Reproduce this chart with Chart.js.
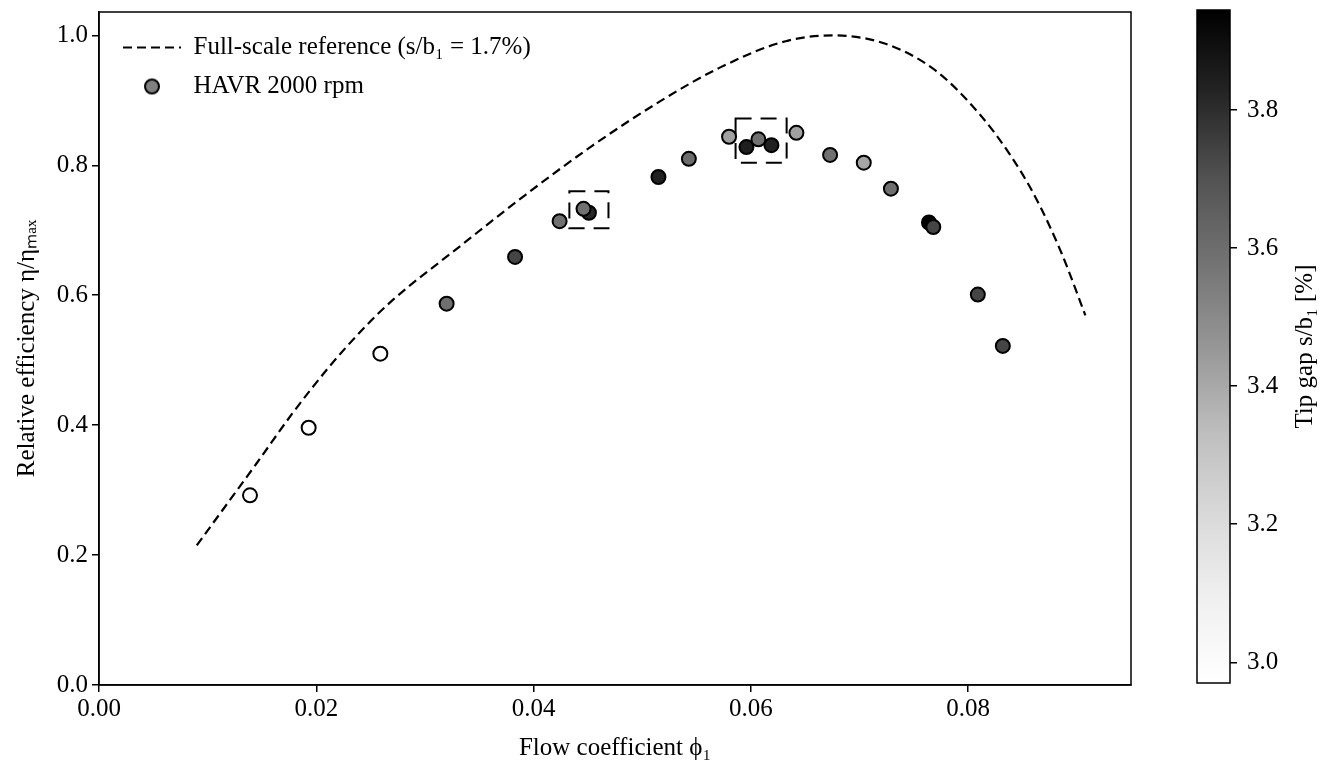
<!DOCTYPE html>
<html lang="en">
  <head>
    <meta charset="UTF-8" />
    <title>Relative efficiency vs flow coefficient</title>
    <script src="https://cdn.jsdelivr.net/npm/chart.js"></script>
    <style>
      body { margin: 0; background: #fff; }
      #wrap { position: relative; width: 1323px; height: 763px; }
      #effChart { position: absolute; left: 0; top: 0; }
      #gapBar { position: absolute; left: 1150px; top: 0; }
    </style>
  </head>
  <body>
    <div id="wrap">
      <canvas id="effChart" width="1323" height="763"></canvas>
      <canvas id="gapBar" width="173" height="763"></canvas>
    </div>

    <script>
      // full-scale reference curve (s/b1 = 1.7%)
      const refPhi = [0.0090, 0.0145, 0.0178, 0.0212, 0.0243, 0.0270, 0.0332, 0.0393, 0.0454, 0.0516,
                      0.0571, 0.0632, 0.0675, 0.0724, 0.0770, 0.0810, 0.0838, 0.0862, 0.0886, 0.0908];
      const refEta = [0.215, 0.341, 0.418, 0.490, 0.548, 0.592, 0.675, 0.755, 0.830, 0.898,
                      0.950, 0.991, 1.000, 0.987, 0.946, 0.880, 0.818, 0.751, 0.665, 0.569];

      // HAVR 2000 rpm measurements
      const phi = [0.0139, 0.0193, 0.0259, 0.0320, 0.0383, 0.0424, 0.0451, 0.0446, 0.0515, 0.0543, 0.0580,
                   0.0596, 0.0607, 0.0619, 0.0642, 0.0673, 0.0704, 0.0729, 0.0764, 0.0768, 0.0809, 0.0832];
      const eta = [0.292, 0.396, 0.510, 0.587, 0.659, 0.714, 0.727, 0.733, 0.782, 0.810, 0.844,
                   0.828, 0.840, 0.831, 0.850, 0.816, 0.804, 0.764, 0.712, 0.705, 0.601, 0.522];
      // tip gap s/b1 [%]
      const tipGap = [2.970, 2.970, 2.970, 3.595, 3.736, 3.590, 3.823, 3.590, 3.840, 3.604, 3.426,
                      3.845, 3.590, 3.835, 3.426, 3.590, 3.411, 3.595, 3.945, 3.736, 3.736, 3.736];

      // dashed boxes [phiMin, phiMax, etaMin, etaMax]
      const boxes = [
        [0.0433, 0.0469, 0.703, 0.760],
        [0.0586, 0.0633, 0.804, 0.872],
      ];

      const xTicksMax = 0.095;
      const yTicksMax = 1.036;
      const gapMin = Math.min(...tipGap);
      const gapMax = Math.max(...tipGap);

      const FONT = { family: "'Liberation Serif', 'Times New Roman', serif", size: 25 };

      // matplotlib "Greys"
      const greys = [[0, 255], [0.125, 240], [0.25, 217], [0.375, 189], [0.5, 150],
                     [0.625, 115], [0.75, 82], [0.875, 37], [1, 0]];
      function greyAt(t) {
        t = Math.max(0, Math.min(1, t));
        for (let i = 1; i < greys.length; i++) {
          if (t <= greys[i][0]) {
            const [t0, g0] = greys[i - 1], [t1, g1] = greys[i];
            const g = Math.round(g0 + (g1 - g0) * (t - t0) / (t1 - t0));
            return `rgb(${g},${g},${g})`;
          }
        }
        return 'rgb(0,0,0)';
      }
      const gapColor = (v) => greyAt((v - gapMin) / (gapMax - gapMin));

      // legend handles
      function lineHandle() {
        const c = document.createElement('canvas');
        c.width = 80; c.height = 4;
        const g = c.getContext('2d');
        g.strokeStyle = '#000'; g.lineWidth = 2.2; g.setLineDash([9, 5]);
        g.beginPath(); g.moveTo(16, 2); g.lineTo(74, 2); g.stroke();
        return c;
      }
      function dotHandle() {
        const c = document.createElement('canvas');
        c.width = 80; c.height = 20;
        const g = c.getContext('2d');
        g.fillStyle = '#808080'; g.strokeStyle = '#000'; g.lineWidth = 2;
        g.beginPath(); g.arc(45, 10, 7, 0, Math.PI * 2); g.fill(); g.stroke();
        return c;
      }

      const framePlugin = {
        id: 'frame',
        afterDatasetsDraw(chart) {
          const { ctx, chartArea: a, scales } = chart;
          ctx.save();
          ctx.strokeStyle = '#000';
          if (scales.x && scales.x.options.display !== false) {
            ctx.lineWidth = 2;
            ctx.setLineDash([16, 9]);
            boxes.forEach(([x0, x1, y0, y1]) => {
              const l = scales.x.getPixelForValue(x0), r = scales.x.getPixelForValue(x1);
              const t = scales.y.getPixelForValue(y1), b = scales.y.getPixelForValue(y0);
              ctx.strokeRect(l, t, r - l, b - t);
            });
          }
          ctx.setLineDash([]);
          ctx.lineWidth = 1.5;
          ctx.strokeRect(a.left, a.top, a.right - a.left, a.bottom - a.top);
          ctx.restore();
        }
      };

      const tickGrid = { drawOnChartArea: false, color: '#000', tickLength: 7, lineWidth: 1.5 };
      const noPad = (s) => { s.paddingTop = 0; s.paddingBottom = 0; };

      new Chart(document.getElementById('effChart'), {
        type: 'scatter',
        data: {
          datasets: [
            {
              type: 'line',
              label: 'Full-scale reference (s/b₁ = 1.7%)',
              data: refPhi.map((x, i) => ({ x, y: refEta[i] })),
              borderColor: '#000',
              borderWidth: 2.2,
              borderDash: [9, 5],
              pointRadius: 0,
              fill: false,
              cubicInterpolationMode: 'monotone',
            },
            {
              label: 'HAVR 2000 rpm',
              data: phi.map((x, i) => ({ x, y: eta[i] })),
              backgroundColor: tipGap.map(gapColor),
              borderColor: '#000',
              borderWidth: 2,
              pointRadius: 7,
            },
          ],
        },
        options: {
          responsive: false,
          animation: false,
          layout: { padding: { left: 0, right: 192, top: 12, bottom: 0 } },
          scales: {
            x: {
              type: 'linear', min: 0, max: xTicksMax,
              ticks: { stepSize: 0.02, includeBounds: false, callback: (v) => v.toFixed(2), color: '#000', font: FONT, padding: 2, maxRotation: 0 },
              grid: tickGrid,
              border: { color: '#000', width: 1.5 },
              title: { display: true, text: 'Flow coefficient ϕ₁', color: '#000', font: FONT, padding: { top: 3, bottom: 0 } },
              afterFit(s) { s.height = 78; },
            },
            y: {
              min: 0, max: yTicksMax,
              ticks: { stepSize: 0.2, includeBounds: false, callback: (v) => v.toFixed(1), color: '#000', font: FONT, padding: 4 },
              grid: tickGrid,
              border: { color: '#000', width: 1.5 },
              title: { display: true, text: 'Relative efficiency η/ηₘₐₓ', color: '#000', font: FONT, padding: { top: 12, bottom: 0 } },
              afterFit(s) { s.width = 99; noPad(s); },
            },
          },
          plugins: {
            tooltip: { enabled: false },
            legend: {
              position: 'chartArea',
              align: 'start',
              title: { display: true, text: '', padding: { top: 21, bottom: 0 }, font: { size: 0 } },
              labels: {
                usePointStyle: true,
                pointStyleWidth: 68,
                padding: 14,
                color: '#000',
                font: FONT,
                generateLabels: (chart) => chart.data.datasets.map((ds, i) => ({
                  text: ds.label,
                  fontColor: '#000',
                  pointStyle: i === 0 ? lineHandle() : dotHandle(),
                  fillStyle: '#000', strokeStyle: '#000', lineWidth: 0,
                  hidden: false, datasetIndex: i,
                })),
              },
            },
          },
        },
        plugins: [framePlugin],
      });

      // colour bar
      const gapTitle = {
        id: 'gapTitle',
        afterDraw(chart) {
          const { ctx, chartArea: a } = chart;
          ctx.save();
          ctx.translate(155, (a.top + a.bottom) / 2);
          ctx.rotate(-Math.PI / 2);
          ctx.fillStyle = '#000';
          ctx.font = `${FONT.size}px ${FONT.family}`;
          ctx.textAlign = 'center';
          ctx.textBaseline = 'middle';
          ctx.fillText('Tip gap s/b₁ [%]', 0, 0);
          ctx.restore();
        }
      };

      new Chart(document.getElementById('gapBar'), {
        type: 'bar',
        data: {
          labels: ['tip gap'],
          datasets: [{
            data: [[gapMin, gapMax]],
            backgroundColor: (c) => {
              const { ctx, chartArea } = c.chart;
              if (!chartArea) return '#888';
              const g = ctx.createLinearGradient(0, chartArea.bottom, 0, chartArea.top);
              greys.forEach(([t, v]) => g.addColorStop(t, `rgb(${v},${v},${v})`));
              return g;
            },
            borderWidth: 0,
            barPercentage: 1,
            categoryPercentage: 1,
          }],
        },
        options: {
          responsive: false,
          animation: false,
          layout: { padding: { left: 47, right: 0, top: 10, bottom: 80 } },
          scales: {
            x: { display: false },
            y: {
              position: 'right', min: gapMin, max: gapMax,
              ticks: { stepSize: 0.2, includeBounds: false, callback: (v) => v.toFixed(1), color: '#000', font: FONT, padding: 10 },
              grid: tickGrid,
              border: { display: false },
              afterFit(s) { s.width = 93; noPad(s); },
            },
          },
          plugins: { legend: { display: false }, tooltip: { enabled: false } },
        },
        plugins: [gapTitle, framePlugin],
      });
    </script>
  </body>
</html>
